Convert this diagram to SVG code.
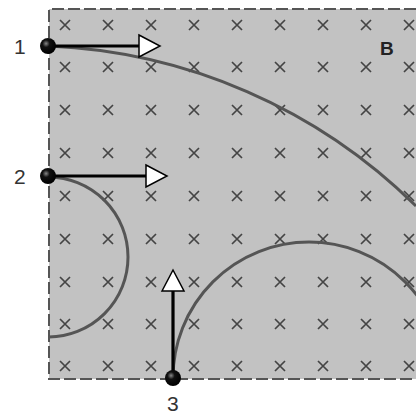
<svg xmlns="http://www.w3.org/2000/svg" width="416" height="414" viewBox="0 0 416 414">
<defs>
<style>
.lbl{font-family:"Liberation Sans",Arial,sans-serif;font-size:21px;fill:#333}
.x{stroke:#444;stroke-width:1.7;fill:none}
.path{stroke:#555;stroke-width:3;fill:none}
.vec{stroke:#000;stroke-width:3.2;fill:none}
.head{fill:#fff;stroke:#000;stroke-width:1.5;stroke-linejoin:miter}
</style>
<radialGradient id="ball" cx="0.38" cy="0.35" r="0.65">
<stop offset="0" stop-color="#888"/>
<stop offset="0.35" stop-color="#111"/>
<stop offset="1" stop-color="#000"/>
</radialGradient>
<clipPath id="box"><rect x="49" y="9" width="367" height="370"/></clipPath>
<g id="cross"><path class="x" d="M-5,-5 L5,5 M5,-5 L-5,5"/></g>
</defs>
<g id="field">
<rect x="49" y="9" width="367" height="370" fill="#c2c2c2"/>
<path d="M416,9 H49 V379 H416" fill="none" stroke="#555" stroke-width="2" stroke-dasharray="12,4"/>
<g id="crosses">
<use href="#cross" x="65" y="25"/><use href="#cross" x="108" y="25"/><use href="#cross" x="151" y="25"/><use href="#cross" x="194" y="25"/><use href="#cross" x="237" y="25"/><use href="#cross" x="280" y="25"/><use href="#cross" x="323" y="25"/><use href="#cross" x="366" y="25"/><use href="#cross" x="409" y="25"/>
<use href="#cross" x="65" y="67"/><use href="#cross" x="108" y="67"/><use href="#cross" x="151" y="67"/><use href="#cross" x="194" y="67"/><use href="#cross" x="237" y="67"/><use href="#cross" x="280" y="67"/><use href="#cross" x="323" y="67"/><use href="#cross" x="366" y="67"/><use href="#cross" x="409" y="67"/>
<use href="#cross" x="65" y="110"/><use href="#cross" x="108" y="110"/><use href="#cross" x="151" y="110"/><use href="#cross" x="194" y="110"/><use href="#cross" x="237" y="110"/><use href="#cross" x="280" y="110"/><use href="#cross" x="323" y="110"/><use href="#cross" x="366" y="110"/><use href="#cross" x="409" y="110"/>
<use href="#cross" x="65" y="153"/><use href="#cross" x="108" y="153"/><use href="#cross" x="151" y="153"/><use href="#cross" x="194" y="153"/><use href="#cross" x="237" y="153"/><use href="#cross" x="280" y="153"/><use href="#cross" x="323" y="153"/><use href="#cross" x="366" y="153"/><use href="#cross" x="409" y="153"/>
<use href="#cross" x="65" y="196"/><use href="#cross" x="108" y="196"/><use href="#cross" x="151" y="196"/><use href="#cross" x="194" y="196"/><use href="#cross" x="237" y="196"/><use href="#cross" x="280" y="196"/><use href="#cross" x="323" y="196"/><use href="#cross" x="366" y="196"/><use href="#cross" x="409" y="196"/>
<use href="#cross" x="65" y="239"/><use href="#cross" x="108" y="239"/><use href="#cross" x="151" y="239"/><use href="#cross" x="194" y="239"/><use href="#cross" x="237" y="239"/><use href="#cross" x="280" y="239"/><use href="#cross" x="323" y="239"/><use href="#cross" x="366" y="239"/><use href="#cross" x="409" y="239"/>
<use href="#cross" x="65" y="282"/><use href="#cross" x="108" y="282"/><use href="#cross" x="151" y="282"/><use href="#cross" x="194" y="282"/><use href="#cross" x="237" y="282"/><use href="#cross" x="280" y="282"/><use href="#cross" x="323" y="282"/><use href="#cross" x="366" y="282"/><use href="#cross" x="409" y="282"/>
<use href="#cross" x="65" y="324"/><use href="#cross" x="108" y="324"/><use href="#cross" x="151" y="324"/><use href="#cross" x="194" y="324"/><use href="#cross" x="237" y="324"/><use href="#cross" x="280" y="324"/><use href="#cross" x="323" y="324"/><use href="#cross" x="366" y="324"/><use href="#cross" x="409" y="324"/>
<use href="#cross" x="65" y="366"/><use href="#cross" x="108" y="366"/><use href="#cross" x="151" y="366"/><use href="#cross" x="194" y="366"/><use href="#cross" x="237" y="366"/><use href="#cross" x="280" y="366"/><use href="#cross" x="323" y="366"/><use href="#cross" x="366" y="366"/><use href="#cross" x="409" y="366"/>
</g>
<text x="380" y="55" font-family="Liberation Sans,Arial,sans-serif" font-size="19" font-weight="bold" fill="#222">B</text>
</g>
<g id="connectors" clip-path="url(#box)">
<path class="path" d="M48,46 A555,555 0 0 1 416,206"/>
<path class="path" d="M48,177 A80,80 0 0 1 48,337"/>
<path class="path" d="M173,378 A136,136 0 0 1 445,378"/>
</g>
<g id="particle1">
<line class="vec" x1="48" y1="46" x2="139" y2="46"/>
<polygon class="head" points="139,35 160,46 139,57"/>
<circle cx="48" cy="46" r="8" fill="url(#ball)"/>
<text class="lbl" x="14" y="54">1</text>
</g>
<g id="particle2">
<line class="vec" x1="48" y1="176" x2="146" y2="176"/>
<polygon class="head" points="146,165 167,176 146,187"/>
<circle cx="48" cy="176" r="8" fill="url(#ball)"/>
<text class="lbl" x="14" y="184">2</text>
</g>
<g id="particle3">
<line class="vec" x1="173" y1="378" x2="173" y2="291"/>
<polygon class="head" points="162,291 173,270 184,291"/>
<circle cx="173" cy="378" r="8" fill="url(#ball)"/>
<text class="lbl" x="167" y="411">3</text>
</g>
</svg>
